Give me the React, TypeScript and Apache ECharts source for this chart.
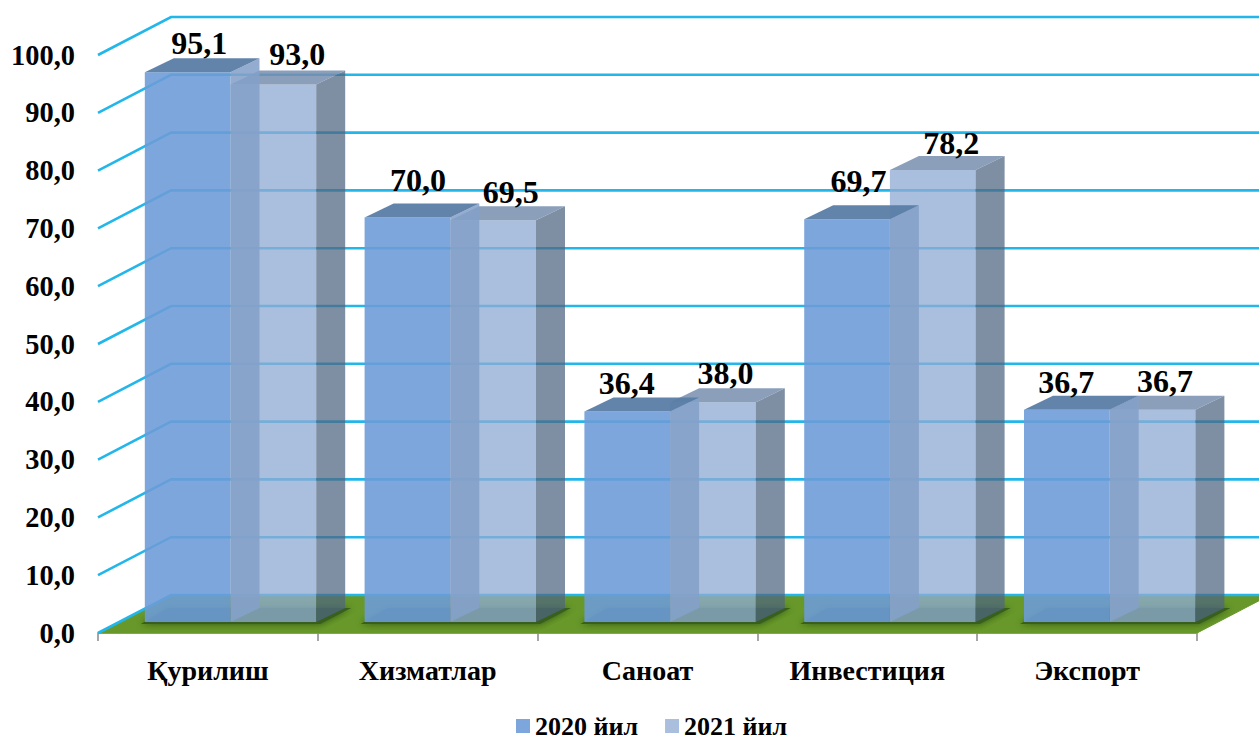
import React, { useEffect, useRef } from "react";
import * as echarts from "echarts";

const categories = ["Қурилиш", "Хизматлар", "Саноат", "Инвестиция", "Экспорт"];
const series2020 = [95.1, 70.0, 36.4, 69.7, 36.7];
const series2021 = [93.0, 69.5, 38.0, 78.2, 36.7];
const yTicks = [0, 10, 20, 30, 40, 50, 60, 70, 80, 90, 100];

// Label nudges (px) relative to the bar's back-top centre
const nudge2020 = [[-3, -5], [-4, -13], [-15, -5], [-3, -14], [-15, -4]];
const nudge2021 = [[9.5, -6], [3, -4], [-2, -5], [4, -3], [-2, -5]];

const FONT = '"Liberation Serif", "Times New Roman", serif';
const fmt = (v: number) => v.toFixed(1).replace(".", ",");

const WALL_DX = 73;
const WALL_DY = 38;
const BAR_W = 85.7;
const BAR_GAP = 46.8;
const BAR_DX = 29;
const BAR_DY = 14;
const BASE_LIFT = 11;
const GRID_COLOR = "#22b6ea";

const gridLines = (_p: any, api: any) => {
  const band = api.size([1, 0])[0];
  const c = api.coord([0, api.value(1)]);
  const x0 = c[0] - band / 2;
  const y = c[1];
  return {
    type: "polyline",
    shape: {
      points: [
        [x0, y],
        [x0 + WALL_DX, y - WALL_DY],
        [x0 + band * 5 + WALL_DX, y - WALL_DY],
      ],
    },
    style: { stroke: GRID_COLOR, lineWidth: 2.6, fill: "none" },
  };
};

const floorItem = (_p: any, api: any) => {
  const i = api.value(0);
  const band = api.size([1, 0])[0];
  const c = api.coord([i, 0]);
  const x0 = c[0] - band / 2;
  const y = c[1];
  const bx0 = x0 + BAR_GAP;
  const bx1 = bx0 + BAR_W * 2;
  const by = y - BASE_LIFT;
  return {
    type: "group",
    children: [
      {
        type: "polygon",
        shape: {
          points: [
            [x0, y],
            [x0 + WALL_DX, y - WALL_DY],
            [x0 + band + WALL_DX, y - WALL_DY],
            [x0 + band, y],
          ],
        },
        style: { fill: "#68982a", stroke: "#68982a", lineWidth: 1 },
      },
      {
        type: "polygon",
        shape: {
          points: [
            [bx0 - 4, by + 2],
            [bx1 + 4, by + 2],
            [bx1 + BAR_DX + 6, by - BAR_DY],
            [bx0 + BAR_DX - 6, by - BAR_DY],
          ],
        },
        style: {
          fill: "#37601a",
          shadowBlur: 7,
          shadowColor: "#2f5514",
        },
      },
    ],
  };
};

const makeBar = (
  slot: number,
  nudges: number[][],
  colors: { front: string; side: string; top: string; fa: number; sa: number; ta: number },
) => (_p: any, api: any) => {
  const i = api.value(0);
  const v = api.value(1);
  const band = api.size([1, 0])[0];
  const top = api.coord([i, v]);
  const zero = api.coord([i, 0]);
  const x0 = top[0] - band / 2 + BAR_GAP + BAR_W * slot;
  const x1 = x0 + BAR_W;
  const yb = zero[1] - BASE_LIFT;
  const yt = top[1] - BASE_LIFT;
  const n = nudges[i];
  return {
    type: "group",
    children: [
      {
        type: "polygon",
        shape: { points: [[x0, yb], [x1, yb], [x1, yt], [x0, yt]] },
        style: { fill: colors.front, opacity: colors.fa },
      },
      {
        type: "polygon",
        shape: {
          points: [
            [x1, yb],
            [x1 + BAR_DX, yb - BAR_DY],
            [x1 + BAR_DX, yt - BAR_DY],
            [x1, yt],
          ],
        },
        style: { fill: colors.side, opacity: colors.sa },
      },
      {
        type: "polygon",
        shape: {
          points: [
            [x0, yt],
            [x0 + BAR_DX, yt - BAR_DY],
            [x1 + BAR_DX, yt - BAR_DY],
            [x1, yt],
          ],
        },
        style: { fill: colors.top, opacity: colors.ta },
      },
      {
        type: "text",
        style: {
          text: fmt(v),
          x: (x0 + x1) / 2 + BAR_DX / 2 + n[0],
          y: yt - BAR_DY + n[1] + 6,
          textAlign: "center",
          textVerticalAlign: "bottom",
          fontFamily: FONT,
          fontWeight: "bold",
          fontSize: 32,
          fill: "#000",
        },
      },
    ],
  };
};

export default function App() {
  const ref = useRef<HTMLDivElement>(null);
  useEffect(() => {
    const chart = echarts.init(ref.current!, undefined, { renderer: "svg" });
    chart.setOption({
      animation: false,
      backgroundColor: "#fff",
      grid: { left: 98, top: 55, width: 1099, height: 578, containLabel: false },
      legend: {
        data: ["2020 йил", "2021 йил"],
        top: 708,
        left: 511,
        itemWidth: 14,
        itemHeight: 14,
        itemGap: 27,
        icon: "rect",
        textStyle: { fontFamily: FONT, fontWeight: "bold", fontSize: 26, color: "#000" },
      },
      xAxis: {
        type: "category",
        data: categories,
        axisLine: { show: true, lineStyle: { color: "#a6a6a6", width: 2 } },
        axisTick: { show: true, length: 8, lineStyle: { color: "#a6a6a6", width: 2 } },
        axisLabel: {
          margin: 23,
          fontFamily: FONT,
          fontWeight: "bold",
          fontSize: 28,
          color: "#000",
        },
      },
      yAxis: {
        type: "value",
        min: 0,
        max: 100,
        interval: 10,
        axisLine: { show: false },
        axisTick: { show: false },
        splitLine: { show: false },
        axisLabel: {
          margin: 23,
          formatter: (v: number) => fmt(v),
          fontFamily: FONT,
          fontWeight: "bold",
          fontSize: 28.4,
          color: "#000",
        },
      },
      series: [
        {
          type: "custom",
          name: "floor",
          z: 1,
          silent: true,
          renderItem: floorItem,
          data: categories.map((_, i) => [i, 0]),
          encode: { x: 0, y: 1 },
        },
        {
          type: "custom",
          name: "grid",
          z: 1.5,
          silent: true,
          renderItem: gridLines,
          data: yTicks.map((t) => [0, t]),
          encode: { x: 0, y: 1 },
        },
        {
          type: "custom",
          name: "2020 йил",
          z: 4,
          itemStyle: { color: "#7da7dc" },
          renderItem: makeBar(0, nudge2020, {
            front: "#6d9cd8", fa: 0.89,
            side: "#84a1c8", sa: 0.88,
            top: "#5a7da6", ta: 0.95,
          }),
          data: series2020.map((v, i) => [i, v]),
          encode: { x: 0, y: 1 },
        },
        {
          type: "custom",
          name: "2021 йил",
          z: 3,
          itemStyle: { color: "#a9bfdd" },
          renderItem: makeBar(1, nudge2021, {
            front: "#8facd3", fa: 0.77,
            side: "#4f6581", sa: 0.73,
            top: "#778eae", ta: 0.85,
          }),
          data: series2021.map((v, i) => [i, v]),
          encode: { x: 0, y: 1 },
        },
      ],
    });
    return () => chart.dispose();
  }, []);
  return (
    <div
      ref={ref}
      style={{ position: "fixed", left: 0, top: 0, width: 1259, height: 740 }}
    />
  );
}
